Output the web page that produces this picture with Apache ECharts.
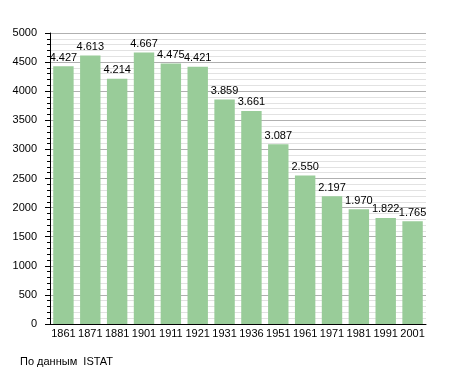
<!DOCTYPE html>
<html><head><meta charset="utf-8">
<script src="https://cdn.jsdelivr.net/npm/echarts@6/dist/echarts.min.js"></script>
<style>html,body{margin:0;padding:0;background:#fff}#c{width:455px;height:373px}</style>
</head><body><div id="c"></div>
<script>
const years = ['1861','1871','1881','1901','1911','1921','1931','1936','1951','1961','1971','1981','1991','2001'];
const population = [4427,4613,4214,4667,4475,4421,3859,3661,3087,2550,2197,1970,1822,1765];
const yTicks = [0,500,1000,1500,2000,2500,3000,3500,4000,4500,5000];
const sourceNote = 'По данным  ISTAT';

const chart = echarts.init(document.getElementById('c'), null, {renderer:'canvas'});
const fmt = v => String(v).replace(/\B(?=(\d{3})+(?!\d))/g, '.');
chart.setOption({
  animation:false,
  textStyle:{fontFamily:'Liberation Sans, Arial, sans-serif'},
  grid:{left:50,right:29,top:33,bottom:49,containLabel:false},
  graphic:[{type:'text',left:20,top:356,style:{text:sourceNote,font:'11px Liberation Sans, Arial, sans-serif',fill:'#000'}}],
  xAxis:{type:'category',data:years,
    axisLine:{lineStyle:{color:'#000',width:1}},
    axisTick:{show:false},
    axisLabel:{color:'#000',fontSize:11,margin:4,interval:0}},
  yAxis:{type:'value',min:yTicks[0],max:yTicks[yTicks.length-1],interval:500,
    axisLine:{show:true,lineStyle:{color:'#000'}},
    axisTick:{show:true,length:5,lineStyle:{color:'#000'}},
    minorTick:{show:true,splitNumber:5,length:3,lineStyle:{color:'#000'}},
    axisLabel:{color:'#000',fontSize:11,margin:13,formatter:v=>String(v)},
    splitLine:{show:true,lineStyle:{color:'#b0b0b0',width:1}},
    minorSplitLine:{show:true,lineStyle:{color:'#e2e2e2',width:1}}},
  series:[{type:'bar',data:population,barCategoryGap:'24%',
    itemStyle:{color:'#99cc99'},
    label:{show:true,position:'top',color:'#000',fontSize:11,distance:3,formatter:p=>fmt(p.value)}}]
});
</script></body></html>
